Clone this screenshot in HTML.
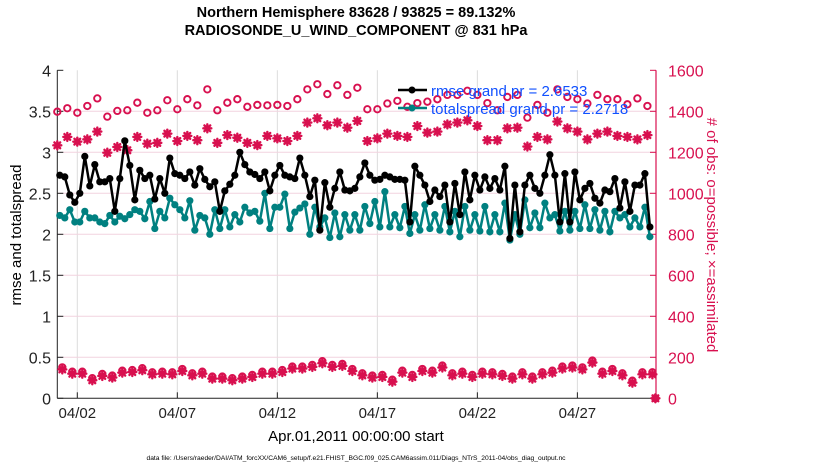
<!DOCTYPE html>
<html><head><meta charset="utf-8"><style>
html,body{margin:0;padding:0;background:#fff;}
svg{display:block;font-family:"Liberation Sans",Arial,sans-serif;}
</style></head><body>
<svg id="chart" width="830" height="470" viewBox="0 0 830 470" xmlns="http://www.w3.org/2000/svg">
<rect x="0" y="0" width="830" height="470" fill="#fff"/>
<g id="grid"></g>
<g id="axes"></g>
<g id="series"></g>
<text x="356" y="17" text-anchor="middle" font-size="14.5" font-weight="bold">Northern Hemisphere 83628 / 93825 = 89.132%</text>
<text x="356" y="35" text-anchor="middle" font-size="14.5" font-weight="bold">RADIOSONDE_U_WIND_COMPONENT @ 831 hPa</text>
<text transform="translate(21,235) rotate(-90)" text-anchor="middle" font-size="15">rmse and totalspread</text>
<text transform="translate(707,235) rotate(90)" text-anchor="middle" font-size="15" fill="#d8104f"># of obs: o=possible; ×=assimilated</text>
<text x="356" y="441" text-anchor="middle" font-size="15">Apr.01,2011 00:00:00 start</text>
<text x="356" y="460" text-anchor="middle" font-size="6.7">data file: /Users/raeder/DAI/ATM_forcXX/CAM6_setup/f.e21.FHIST_BGC.f09_025.CAM6assim.011/Diags_NTrS_2011-04/obs_diag_output.nc</text>
<g id="legend">
  <line x1="398" y1="90" x2="427" y2="90" stroke="#000" stroke-width="2.5"/>
  <circle cx="412" cy="90" r="3.5" fill="#000"/>
  <text x="431" y="96" font-size="15" fill="#1050ff">rmse grand pr = 2.6533</text>
  <line x1="398" y1="108" x2="427" y2="108" stroke="#008080" stroke-width="2.5"/>
  <circle cx="412" cy="108" r="3.5" fill="#008080"/>
  <text x="431" y="114" font-size="15" fill="#1050ff">totalspread grand pr = 2.2718</text>
</g>
</svg>
<script>
const rmse = [2.72,2.70,2.48,2.39,2.50,2.95,2.59,2.85,2.64,2.64,2.68,2.28,2.68,3.14,2.84,2.42,2.78,2.68,2.72,2.43,2.68,2.50,2.93,2.74,2.72,2.68,2.76,2.60,2.80,2.67,
2.58,2.64,2.28,2.53,2.61,2.72,3.0,2.85,2.76,2.73,2.68,2.76,2.53,2.72,2.84,2.72,2.70,2.68,2.93,2.72,2.46,2.66,2.05,2.63,2.33,2.56,2.76,2.54,2.53,2.56,
2.70,2.87,2.72,2.66,2.67,2.72,2.70,2.67,2.67,2.66,2.15,2.83,2.72,2.60,2.40,2.54,2.46,2.60,2.15,2.62,2.24,2.76,2.42,2.72,2.54,2.70,2.56,2.68,2.54,2.83,
1.95,2.60,2.03,2.60,2.72,2.56,2.50,2.72,2.97,2.72,2.15,2.74,2.15,2.76,2.42,2.56,2.62,2.44,2.38,2.54,2.52,2.68,2.32,2.64,2.28,2.60,2.60,2.74,2.09];
const spread = [2.23,2.20,2.30,2.15,2.15,2.28,2.20,2.20,2.15,2.13,2.23,2.15,2.22,2.19,2.24,2.30,2.28,2.19,2.40,2.07,2.28,2.20,2.44,2.36,2.30,2.20,2.41,2.05,2.23,2.20,
2.0,2.30,2.07,2.30,2.09,2.24,2.15,2.33,2.26,2.28,2.16,2.50,2.07,2.33,2.33,2.49,2.07,2.27,2.32,2.37,2.0,2.33,2.09,2.20,1.96,2.26,1.97,2.24,2.05,2.24,
2.05,2.34,2.13,2.40,2.09,2.52,2.09,2.24,2.08,2.34,2.01,2.24,2.05,2.36,2.07,2.24,2.05,2.34,2.03,2.28,1.97,2.34,2.05,2.24,2.04,2.34,2.03,2.24,2.03,2.38,
1.93,2.24,2.0,2.42,2.08,2.26,2.08,2.38,2.20,2.24,2.04,2.28,2.05,2.28,2.07,2.36,2.07,2.30,2.05,2.28,2.03,2.28,2.20,2.24,2.09,2.20,2.09,2.33,1.97];
const possibleMain = [1398,1415,1393,1426,1463,1374,1402,1405,1442,1393,1405,1454,1410,1459,1429,1507,
1405,1442,1459,1422,1431,1429,1431,1426,1459,1507,1532,1484,1527,1480,1515,
1410,1410,1438,1451,1422,1440,1447,1459,1480,1480,1500,1480,1440,1405,
1470,1480,1369,1431,1393,1507,1470,1459,1438,1480,1459,1459,1434,1463,1426];
const assimMain = [1234,1275,1252,1263,1301,1198,1226,1210,1275,1242,1246,1291,1255,1280,1259,1317,
1246,1284,1271,1246,1235,1280,1268,1255,1280,1345,1366,1332,1345,1320,1353,
1255,1268,1291,1280,1275,1328,1296,1301,1336,1345,1356,1328,1259,1259,
1317,1320,1228,1275,1263,1350,1317,1301,1263,1291,1301,1280,1275,1263,1284];
const assimOff = [141,120,120,88,109,101,125,128,137,117,120,117,133,112,120,96,96,88,96,104,120,120,128,145,145,153,171,153,158,133,
112,101,104,81,125,104,133,125,150,112,120,104,120,117,109,96,117,96,117,125,145,150,141,174,120,133,112,76,117,117];
const possibleOff = [151,130,130,98,119,111,135,138,147,127,130,127,143,122,130,106,106,98,106,114,130,130,138,155,155,163,181,163,168,143,
122,111,114,91,135,114,143,135,160,122,130,114,130,127,119,106,127,106,127,135,155,160,151,184,130,143,122,86,127,127];
const finalDay = [29.9];
const finalObs = [0];
const leftTicks = [0,0.5,1,1.5,2,2.5,3,3.5,4];
const rightTicks = [0,200,400,600,800,1000,1200,1400,1600];
const xTickDays = [1,6,11,16,21,26];
const xTickLabels = ["04/02","04/07","04/12","04/17","04/22","04/27"];

const X0=57.3, X1=656, DMAX=29.93, Y0=398.3, Y1=70.3;
const NS="http://www.w3.org/2000/svg";
const xs = d => X0 + (X1-X0)*d/DMAX;
const yl = v => Y0 - (Y0-Y1)*v/4;
const yr = v => Y0 - (Y0-Y1)*v/1600;
const CR="#d8104f";
function mk(tag, attrs, parent){const e=document.createElementNS(NS,tag);for(const k in attrs)e.setAttribute(k,attrs[k]);parent.appendChild(e);return e;}
const grid=document.getElementById('grid'), axes=document.getElementById('axes'), ser=document.getElementById('series');

xTickDays.forEach((d,i)=>{
  const g=mk('line',{x1:xs(d),x2:xs(d),y1:Y1,y2:Y0,stroke:'#dcdcdc','stroke-width':1},grid);
  
  
  const t=mk('line',{x1:xs(d),x2:xs(d),y1:Y0,y2:Y0-6,stroke:'#222','stroke-width':1},axes);
  
  
  const l=mk('text',{x:xs(d),y:418,'text-anchor':'middle','font-size':15,fill:'#222'},axes);
  l.textContent=xTickLabels[i];
  
  
});
leftTicks.forEach(v=>{
  if(v>0&&v<4){const g=mk('line',{x1:X0,x2:X1,y1:yl(v),y2:yl(v),stroke:'#f2d3df','stroke-width':1},grid);
  
  }
  const t=mk('line',{x1:X0,x2:X0+6,y1:yl(v),y2:yl(v),stroke:'#222'},axes);
  
  
  const l=mk('text',{x:51,y:yl(v)+6,'text-anchor':'end','font-size':16,fill:'#222'},axes);
  l.textContent=String(v);
  
  
});
rightTicks.forEach(v=>{
  const t=mk('line',{x1:X1-6,x2:X1,y1:yr(v),y2:yr(v),stroke:CR},axes);
  
  
  const l=mk('text',{x:668,y:yr(v)+6,'text-anchor':'start','font-size':16,fill:CR},axes);
  l.textContent=String(v);
  
  
});
let a=mk('line',{x1:X0,x2:X0,y1:Y1,y2:Y0,stroke:'#222','stroke-width':1},axes);


a=mk('line',{x1:X0,x2:X1,y1:Y0,y2:Y0,stroke:'#222','stroke-width':1},axes);


a=mk('line',{x1:X1,x2:X1,y1:Y1,y2:Y0,stroke:CR,'stroke-width':1.2},axes);



function star(cx,cy,name){
  const g=mk('g',{stroke:CR,'stroke-width':2.4,'stroke-linecap':'round'},ser);
  
  
  const r=4;
  mk('line',{x1:cx-r,x2:cx+r,y1:cy,y2:cy},g);
  mk('line',{x1:cx,x2:cx,y1:cy-r,y2:cy+r},g);
  mk('line',{x1:cx-r*0.72,x2:cx+r*0.72,y1:cy-r*0.72,y2:cy+r*0.72},g);
  mk('line',{x1:cx-r*0.72,x2:cx+r*0.72,y1:cy+r*0.72,y2:cy-r*0.72},g);
}
function ring(cx,cy,name){
  const c=mk('circle',{cx:cx,cy:cy,r:3.2,fill:'none',stroke:CR,'stroke-width':1.9},ser);
  
  
}
assimMain.forEach((v,i)=>star(xs(i*0.5),yr(v),'assimilated-obs-point'));
possibleMain.forEach((v,i)=>ring(xs(i*0.5),yr(v),'possible-obs-point'));
assimOff.forEach((v,i)=>star(xs(0.25+i*0.5),yr(v),'assimilated-obs-point-offcycle'));
possibleOff.forEach((v,i)=>ring(xs(0.25+i*0.5),yr(v),'possible-obs-point-offcycle'));
finalObs.forEach((v,i)=>{star(xs(finalDay[i]),yr(v),'assimilated-obs-final');ring(xs(finalDay[i]),yr(v),'possible-obs-final');});

function lineSeries(vals,color,name){
  const pts=vals.map((v,i)=>xs(0.125+0.25*i).toFixed(2)+','+yl(v).toFixed(2)).join(' ');
  const p=mk('polyline',{points:pts,fill:'none',stroke:color,'stroke-width':2.5,'stroke-linejoin':'round'},ser);
  
  
  vals.forEach((v,i)=>{
    const c=mk('circle',{cx:xs(0.125+0.25*i),cy:yl(v),r:3.6,fill:color},ser);
    
    
  });
}
lineSeries(spread,'#008080','totalspread');
lineSeries(rmse,'#000','rmse');
document.getElementById('chart').appendChild(document.getElementById('legend'));
</script>
</body></html>
